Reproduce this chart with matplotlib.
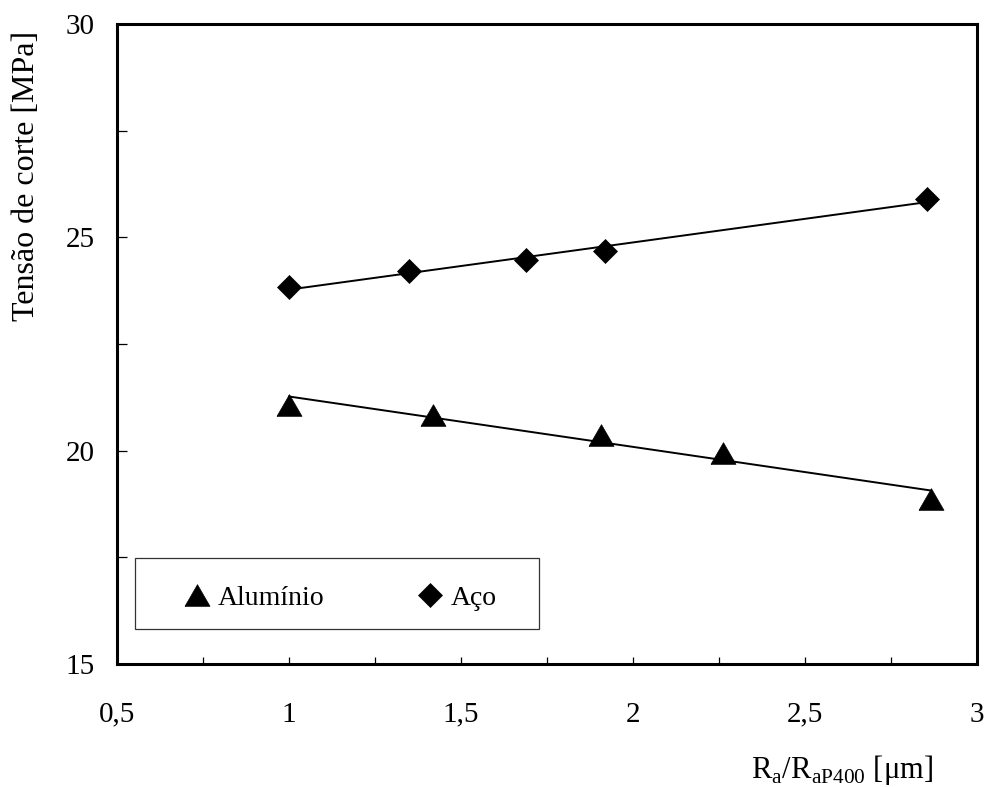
import numpy as np
import matplotlib
matplotlib.use("Agg")
import matplotlib.pyplot as plt
from matplotlib.patches import Rectangle
from matplotlib.ticker import MultipleLocator, FixedLocator, FixedFormatter


# Data
aluminio_x = [1.0, 1.418, 1.907, 2.262, 2.866]
aluminio_y = [21.08, 20.84, 20.37, 19.94, 18.86]

aco_x = [1.0, 1.349, 1.69, 1.919, 2.855]
aco_y = [23.84, 24.2, 24.48, 24.67, 25.9]

xticks = [0.5, 1.0, 1.5, 2.0, 2.5, 3.0]
xtick_labels = ["0,5", "1", "1,5", "2", "2,5", "3"]
yticks = [15, 20, 25, 30]
ytick_labels = ["15", "20", "25", "30"]

series_labels = ["Alumínio", "Aço"]
ylabel_text = "Tensão de corte [MPa]"
xlabel_text = r"R$_\mathregular{a}$/R$_\mathregular{aP400}$ [μm]"

TRIANGLE = [(-1.0, -0.866), (1.0, -0.866), (0.0, 0.866), (-1.0, -0.866)]


def trend_line(x, y):
    x = np.asarray(x)
    slope, intercept = np.polyfit(x, np.asarray(y), 1)
    xs = np.array([x.min(), x.max()])
    return xs, slope * xs + intercept


def main():
    plt.rcParams["font.family"] = ["Liberation Serif", "DejaVu Serif"]
    plt.rcParams["mathtext.fontset"] = "custom"
    plt.rcParams["mathtext.rm"] = "Liberation Serif"

    fig = plt.figure(figsize=(9.86, 7.87), dpi=100)
    ax = fig.add_axes([117 / 986, 1 - 664 / 787, 860 / 986, 640 / 787])

    # trend lines
    for x, y in [(aluminio_x, aluminio_y), (aco_x, aco_y)]:
        xs, ys = trend_line(x, y)
        ax.plot(xs, ys, color="black", lw=1.4, zorder=2)

    h_al, = ax.plot(aluminio_x, aluminio_y, ls="none", marker=TRIANGLE, ms=18,
                    mfc="black", mec="black", mew=0.5, zorder=3, label=series_labels[0])
    h_aco, = ax.plot(aco_x, aco_y, ls="none", marker="D", ms=12,
                     mfc="black", mec="black", mew=0.5, zorder=3, label=series_labels[1])

    ax.set_xlim(0.5, 3.0)
    ax.set_ylim(15, 30)

    ax.xaxis.set_major_locator(FixedLocator(xticks))
    ax.xaxis.set_major_formatter(FixedFormatter(xtick_labels))
    ax.xaxis.set_minor_locator(MultipleLocator(0.25))
    ax.yaxis.set_major_locator(FixedLocator(yticks))
    ax.yaxis.set_major_formatter(FixedFormatter(ytick_labels))
    ax.yaxis.set_minor_locator(MultipleLocator(2.5))

    ax.tick_params(axis="x", which="both", direction="in", length=5, width=0.9,
                   pad=27, labelsize=21, top=False)
    ax.tick_params(axis="y", which="both", direction="in", length=7, width=0.9,
                   pad=16, labelsize=21, right=False)
    ax.tick_params(axis="x", which="minor", labelbottom=False)

    for spine in ax.spines.values():
        spine.set_linewidth(2.2)

    # legend box
    ax.add_patch(Rectangle((0.0209, 0.0547), 0.4698, 0.1109, transform=ax.transAxes,
                           fill=False, edgecolor="#333333", lw=0.9, zorder=4))
    ax.legend(handles=[h_al, h_aco], loc="center", mode="expand", ncol=2,
              bbox_to_anchor=(0.0767, 0.073, 0.365, 0.06), frameon=False,
              borderpad=0, borderaxespad=0, handlelength=1.0, handletextpad=0.25,
              fontsize=20)

    fig.text(27 / 986, 1 - 176 / 787, ylabel_text, rotation=90, ha="center",
             va="center", fontsize=23)
    fig.text(933 / 986, 1 - 778 / 787, xlabel_text, ha="right", va="baseline",
             fontsize=22)

    fig.savefig("out.png", dpi=100)
    plt.close(fig)


if __name__ == "__main__":
    main()
